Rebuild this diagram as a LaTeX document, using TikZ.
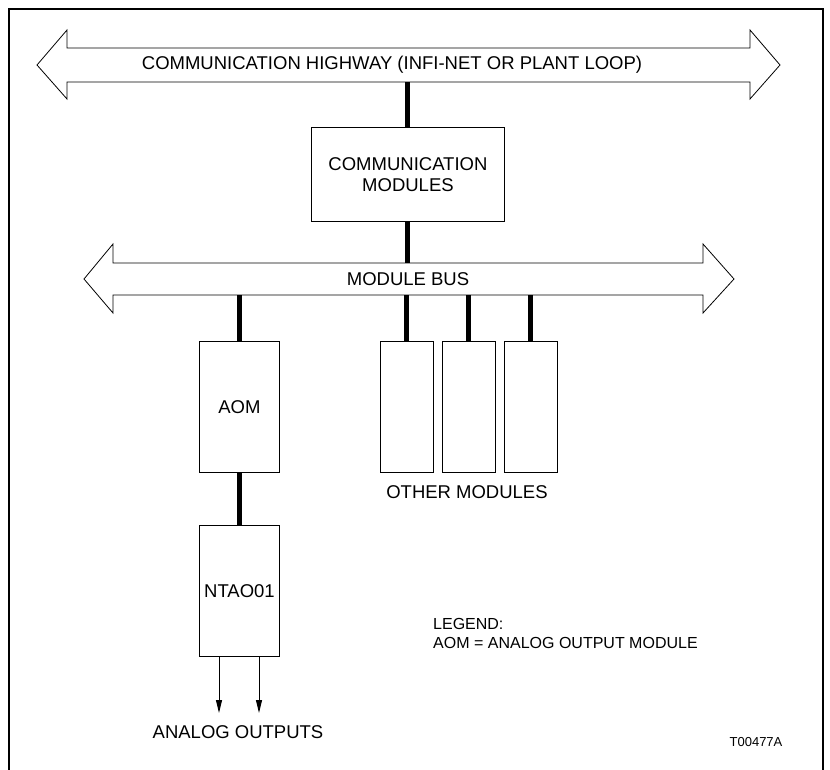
\documentclass[tikz,border=0pt]{standalone}
\usepackage{fontspec}
\setmainfont{Liberation Sans}
\usetikzlibrary{arrows.meta}
\begin{document}
\begin{tikzpicture}[x=1pt,y=-1pt,
  box/.style={draw, line width=0.9pt, inner sep=0pt, anchor=north west, align=center,
              font=\fontsize{18.5}{21}\selectfont},
  busline/.style={line width=5pt},
  outline/.style={draw, line width=0.8pt, line join=miter},
  lbl/.style={font=\fontsize{18.5}{21}\selectfont, inner sep=0pt},
  outarrow/.style={line width=0.9pt, -{Triangle[length=13pt,width=6pt]}}]
\useasboundingbox (0,0) rectangle (830,770);
% frame
\draw[line width=1.3pt] (9,770) -- (9,9) -- (823,9) -- (823,770);
% communication highway
\draw[outline] (37,65) -- (67,30) -- (67,48) -- (750,48) -- (750,30) -- (780,65)
  -- (750,99) -- (750,82) -- (67,82) -- (67,99) -- cycle;
\node[lbl] (hwytxt) at (392,65) {COMMUNICATION HIGHWAY (INFI-NET OR PLANT LOOP)};
\coordinate (hwybot) at (0,82);
% module bus
\draw[outline] (84,279) -- (113,244) -- (113,263) -- (703,263) -- (703,244) -- (734,279)
  -- (703,313) -- (703,295) -- (113,295) -- (113,313) -- cycle;
\node[lbl] (bustxt) at (408,279) {MODULE BUS};
\coordinate (bustop) at (0,263);
\coordinate (busbot) at (0,295);
% boxes
\node[box, minimum width=193pt, minimum height=94pt] (comm) at (311,127) {COMMUNICATION\\MODULES};
\node[box, minimum width=80pt, minimum height=131pt] (aom) at (199,341) {AOM};
\node[box, minimum width=80pt, minimum height=131pt] (ntao) at (199,525) {NTAO01};
\node[box, minimum width=53pt, minimum height=131pt] (om1) at (380,341) {};
\node[box, minimum width=53pt, minimum height=131pt] (om2) at (442,341) {};
\node[box, minimum width=53pt, minimum height=131pt] (om3) at (504,341) {};
% thick connectors
\draw[busline] (hwybot -| comm.north) -- (comm.north);
\draw[busline] (comm.south) -- (comm.south |- bustop);
\draw[busline] (busbot -| aom.north) -- (aom.north);
\draw[busline] (busbot -| om1.north) -- (om1.north);
\draw[busline] (busbot -| om2.north) -- (om2.north);
\draw[busline] (busbot -| om3.north) -- (om3.north);
\draw[busline] (aom.south) -- (ntao.north);
% outputs
\coordinate (out1) at (219,713);
\coordinate (out2) at (259,713);
\draw[outarrow] (ntao.south -| out1) -- (out1);
\draw[outarrow] (ntao.south -| out2) -- (out2);
% labels
\node[lbl] (othertxt) at (467,492) {OTHER MODULES};
\node[lbl] (aotxt) at (238,732) {ANALOG OUTPUTS};
\node[font=\fontsize{16}{19}\selectfont, align=left, anchor=west, inner sep=0pt] (legend) at (433,633.5)
  {LEGEND:\\AOM = ANALOG OUTPUT MODULE};
\node[font=\fontsize{13}{15}\selectfont, inner sep=0pt] (tag) at (756,742) {T00477A};
\end{tikzpicture}
\end{document}
